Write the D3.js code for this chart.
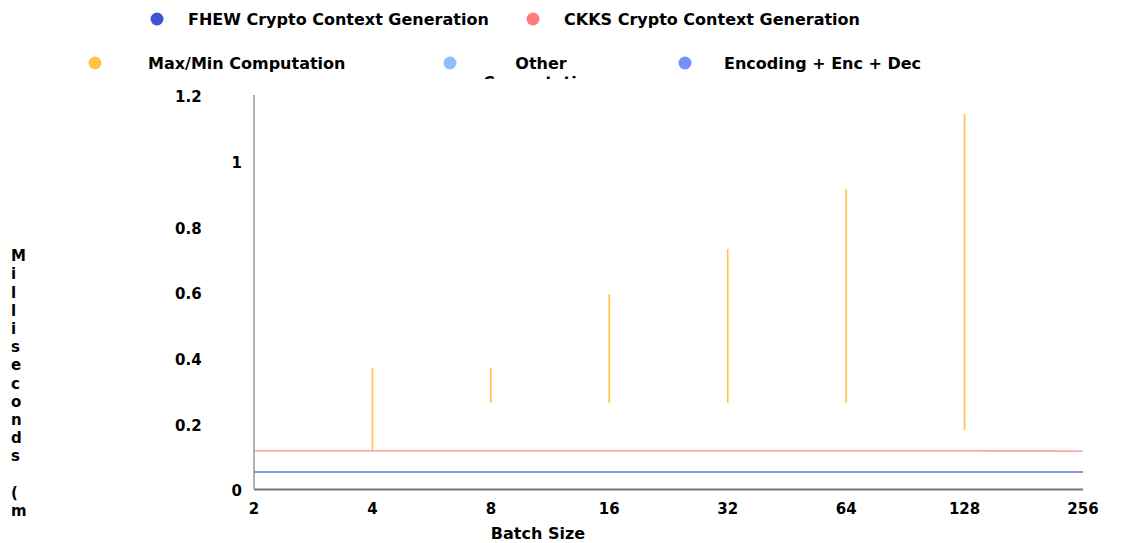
<!DOCTYPE html>
<html>
<head>
<meta charset="utf-8">
<script src="https://cdn.jsdelivr.net/npm/d3@7"></script>
<style>
	body { margin: 0; background: #fff; }
	text { font-family: "DejaVu Sans", sans-serif; font-weight: bold; font-size: 15px; fill: #000; }
	.big { font-size: 16px; }
</style>
</head>
<body>
<div id="chart"></div>
<script>
"use strict";

// Batch sizes on the x axis.
var batchSizes = [2, 4, 8, 16, 32, 64, 128, 256];

// Milliseconds.
var fhewValues = [0.052, 0.052, 0.052, 0.052, 0.052, 0.052, 0.052, 0.052];
var ckksValues = [0.116, 0.116, 0.116, 0.116, 0.116, 0.116, 0.116, 0.1155];
var maxMinLow = [null, 0.116, 0.262, 0.262, 0.262, 0.262, 0.18, null];
var maxMinHigh = [null, 0.369, 0.369, 0.594, 0.731, 0.914, 1.142, null];

var yTicks = [0, 0.2, 0.4, 0.6, 0.8, 1, 1.2];

var seriesNames = ["FHEW Crypto Context Generation", "CKKS Crypto Context Generation",
	"Max/Min Computation", "Other Computation", "Encoding + Enc + Dec"];
var seriesColors = ["#4353cf", "#ff7b7b", "#ffc445", "#8fbff9", "#7390fb"];

var width = 1145, height = 543;
var plot = { left: 254, right: 1083, top: 95, bottom: 489 };

var svg = d3.select("#chart").append("svg")
	.attr("width", width)
	.attr("height", height);

var x = d3.scalePoint().domain(batchSizes).range([plot.left, plot.right]);
var y = d3.scaleLinear().domain([0, 1.2]).range([plot.bottom, plot.top]);

// Legend (two rows, fixed slots like the original).
var legendSlots = [
	{ dot: 157, text: 188, y: 19, anchor: "start" },
	{ dot: 533, text: 564, y: 19, anchor: "start" },
	{ dot: 95, text: 148, y: 63, anchor: "start" },
	{ dot: 450, text: 541, y: 63, anchor: "middle" },
	{ dot: 685, text: 724, y: 63, anchor: "start" }
];
svg.append("clipPath").attr("id", "legendClip")
	.append("rect").attr("x", 0).attr("y", 0).attr("width", width).attr("height", 79);

var legend = svg.append("g").attr("clip-path", "url(#legendClip)");
seriesNames.forEach(function(name, i) {
	var s = legendSlots[i];
	legend.append("circle")
		.attr("cx", s.dot).attr("cy", s.y).attr("r", 6.5)
		.attr("fill", seriesColors[i]);
	var t = legend.append("text")
		.attr("class", "big")
		.attr("x", s.text).attr("y", s.y)
		.attr("text-anchor", s.anchor);
	if (s.anchor === "middle") {
		// narrow box: the label wraps onto a second line
		name.split(" ").forEach(function(w, k) {
			t.append("tspan").attr("x", s.text).attr("dy", k === 0 ? "0.35em" : "1.2em").text(w);
		});
	} else {
		t.attr("dy", "0.35em").text(name);
	}
});

// Axes
svg.append("line")
	.attr("x1", plot.left).attr("x2", plot.left)
	.attr("y1", y(1.2)).attr("y2", y(0))
	.attr("stroke", "#666").attr("stroke-width", 1);
svg.append("line")
	.attr("x1", plot.left).attr("x2", plot.right)
	.attr("y1", y(0) + 0.5).attr("y2", y(0) + 0.5)
	.attr("stroke", "#777").attr("stroke-width", 2);

svg.append("g").selectAll("text")
	.data(yTicks)
	.join("text")
	.attr("x", function(d) { return Number.isInteger(d) ? 242 : 175; })
	.attr("y", function(d) { return y(d) + 2; })
	.attr("dy", "0.35em")
	.attr("text-anchor", function(d) { return Number.isInteger(d) ? "end" : "start"; })
	.text(function(d) { return d3.format("~g")(d); });

svg.append("g").selectAll("text")
	.data(batchSizes)
	.join("text")
	.attr("x", function(d) { return x(d); })
	.attr("y", 509)
	.attr("dy", "0.35em")
	.attr("text-anchor", "middle")
	.text(function(d) { return d; });

svg.append("text")
	.attr("class", "big")
	.attr("x", 538).attr("y", 533).attr("dy", "0.35em")
	.attr("text-anchor", "middle")
	.text("Batch Size");

// Y title, one letter per line; the box only has room down to "(m"
var yTitle = svg.append("text")
	.attr("x", 11).attr("y", 256).attr("dy", "0.35em");
var yTitleBottom = 520, yLine = 18.2;
"Milliseconds (ms)".split("").forEach(function(c, k) {
	if (256 + k * yLine > yTitleBottom) return;
	yTitle.append("tspan").attr("x", 11).attr("dy", k === 0 ? "0.35em" : yLine).text(c === " " ? "\u00a0" : c);
});

// Series
var line = d3.line()
	.x(function(d, i) { return x(batchSizes[i]); })
	.y(function(d) { return y(d); });

svg.append("path").datum(fhewValues)
	.attr("d", line).attr("fill", "none")
	.attr("stroke", "#5f70de").attr("stroke-width", 1.6);
svg.append("path").datum(ckksValues)
	.attr("d", line).attr("fill", "none")
	.attr("stroke", "#ff8a8a").attr("stroke-width", 1.3);

svg.append("g").selectAll("line")
	.data(batchSizes.filter(function(d, i) { return maxMinHigh[i] !== null; }))
	.join("line")
	.attr("x1", function(d) { return x(d); })
	.attr("x2", function(d) { return x(d); })
	.attr("y1", function(d) { return y(maxMinLow[batchSizes.indexOf(d)]); })
	.attr("y2", function(d) { return y(maxMinHigh[batchSizes.indexOf(d)]); })
	.attr("stroke", seriesColors[2]).attr("stroke-width", 1.6);
</script>
</body>
</html>
